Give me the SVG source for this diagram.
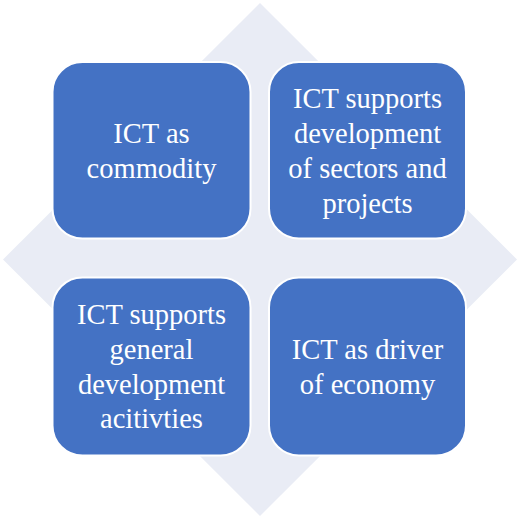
<svg xmlns="http://www.w3.org/2000/svg" width="520" height="519" viewBox="0 0 520 519">
<style>
.box{fill:#4472C4;stroke:#FFFFFF;stroke-width:2}
.lbl{font-size:28.5px;fill:#FFFFFF;text-anchor:middle}
</style>
<rect width="520" height="519" fill="#FFFFFF"/>
<polygon id="diamond" points="260,3 517,259.5 260,516 3,259.5" fill="#E9ECF5"/>
<g font-family="Liberation Serif, Noto Serif, DejaVu Serif, Times New Roman, serif">
<g id="node-commodity">
<rect class="box" x="52.5" y="62" width="198" height="176.5" rx="30" ry="30"/>
<text class="lbl" x="151.5" y="143">ICT as</text>
<text class="lbl" x="151.5" y="178">commodity</text>
</g>
<g id="node-sectors">
<rect class="box" x="269" y="62" width="197" height="176.5" rx="30" ry="30"/>
<text class="lbl" x="367.5" y="108">ICT supports</text>
<text class="lbl" x="367.5" y="143">development</text>
<text class="lbl" x="367.5" y="178">of sectors and</text>
<text class="lbl" x="367.5" y="212.5">projects</text>
</g>
<g id="node-general">
<rect class="box" x="52.5" y="277.5" width="198" height="178" rx="30" ry="30"/>
<text class="lbl" x="151.5" y="324">ICT supports</text>
<text class="lbl" x="151.5" y="359">general</text>
<text class="lbl" x="151.5" y="393.5">development</text>
<text class="lbl" x="151.5" y="428">acitivties</text>
</g>
<g id="node-driver">
<rect class="box" x="269" y="277.5" width="197" height="178" rx="30" ry="30"/>
<text class="lbl" x="367.5" y="359">ICT as driver</text>
<text class="lbl" x="367.5" y="394">of economy</text>
</g>
</g>
<g id="connectors"></g>
</svg>
